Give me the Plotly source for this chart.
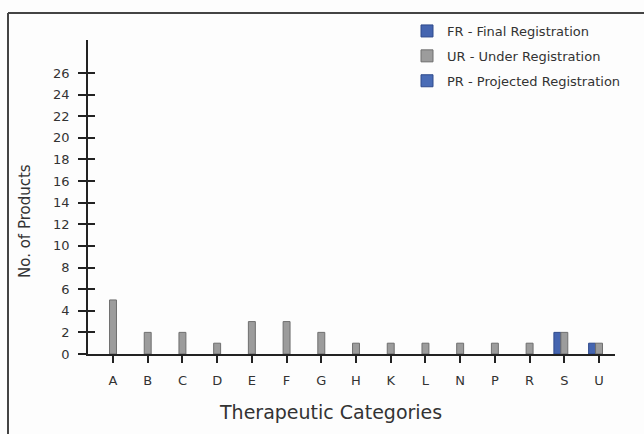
import plotly.graph_objects as go

categories = ["A", "B", "C", "D", "E", "F", "G", "H", "K", "L", "N", "P", "R", "S", "U"]
fr_values = [None, None, None, None, None, None, None, None, None, None, None, None, None, 2, 1]
ur_values = [5, 2, 2, 1, 3, 3, 2, 1, 1, 1, 1, 1, 1, 2, 1]
pr_values = [None] * 15
y_ticks = [0, 2, 4, 6, 8, 10, 12, 14, 16, 18, 20, 22, 24, 26]
series_names = ["FR - Final Registration", "UR - Under Registration", "PR - Projected Registration"]

W, H = 644, 434
L, R, T, B = 88, 615, 40, 354
FONT = "DejaVu Sans"
TXT = "#333333"


def px_x(x):
    return (x - L) / (R - L)


def px_y(y):
    return (B - y) / (B - T)


fig = go.Figure()
fig.add_trace(go.Bar(x=categories, y=fr_values, name=series_names[0], legendgroup="g1",
                     marker=dict(color="#4565b0", line=dict(color="#2f4a8c", width=1))))
fig.add_trace(go.Bar(x=categories, y=ur_values, name=series_names[1], legendgroup="g2",
                     marker=dict(color="#9c9c9c", line=dict(color="#6f6f6f", width=1))))
fig.add_trace(go.Bar(x=categories, y=pr_values, name=series_names[2], legendgroup="g3",
                     marker=dict(color="#4a6cb6", line=dict(color="#2f4a8c", width=1))))
fig.add_trace(go.Scatter(x=[], y=[], yaxis="y2", showlegend=False, hoverinfo="skip"))

yrange = [0, 29.05]

fig.update_layout(
    width=W, height=H,
    margin=dict(l=L, r=W - R, t=T, b=H - B, pad=0),
    paper_bgcolor="#fdfdfd", plot_bgcolor="#fdfdfd",
    barmode="group", bargap=0.4, bargroupgap=0,
    font=dict(family=FONT, color=TXT, size=12),
    showlegend=True,
    legend=dict(x=px_x(407), y=px_y(16), xanchor="left", yanchor="top",
                font=dict(family=FONT, size=13, color=TXT),
                bgcolor="rgba(0,0,0,0)", traceorder="grouped", tracegroupgap=5,
                itemwidth=30),
    xaxis=dict(type="category", categoryorder="array", categoryarray=categories,
               range=[-0.72, 14.46], showline=True, linecolor="#222222", linewidth=1.5,
               ticks="outside", ticklen=7, tickwidth=1.5, tickcolor="#222222",
               showgrid=False, zeroline=False, tickfont=dict(size=13, color=TXT),
               ticklabelstandoff=7),
    yaxis=dict(range=yrange, tickvals=y_ticks, showline=True, linecolor="#222222", linewidth=1.5,
               ticks="outside", ticklen=8, tickwidth=1.5, tickcolor="#222222",
               showgrid=False, zeroline=False, tickfont=dict(size=13, color=TXT),
               ticklabelstandoff=6),
    yaxis2=dict(range=yrange, tickvals=y_ticks, overlaying="y", anchor="x", side="left",
                showline=False, ticks="inside", ticklen=7, tickwidth=1.5, tickcolor="#222222",
                showticklabels=False, showgrid=False, zeroline=False),
)

# frame (top and left border lines)
fig.add_shape(type="line", xref="paper", yref="paper", x0=px_x(8), x1=px_x(W), y0=px_y(13), y1=px_y(13),
              line=dict(color="#444444", width=2))
fig.add_shape(type="line", xref="paper", yref="paper", x0=px_x(8), x1=px_x(8), y0=px_y(13), y1=px_y(H),
              line=dict(color="#444444", width=2))

# axis titles
fig.add_annotation(text="No. of Products", xref="paper", yref="paper", x=px_x(25), y=px_y(221),
                   showarrow=False, textangle=-90, font=dict(family=FONT, size=15, color=TXT),
                   xanchor="center", yanchor="middle")
fig.add_annotation(text="Therapeutic Categories", xref="paper", yref="paper", x=px_x(330), y=px_y(412),
                   showarrow=False, font=dict(family=FONT, size=19, color=TXT),
                   xanchor="center", yanchor="middle")

fig.write_html("out.html")
